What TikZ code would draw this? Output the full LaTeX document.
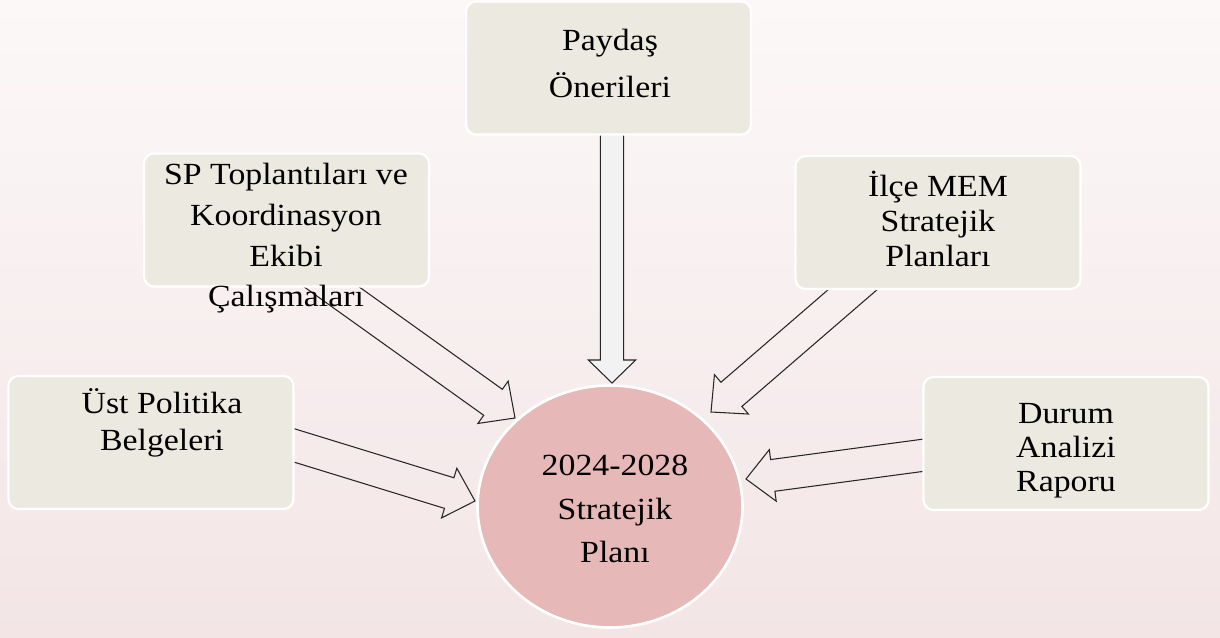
\documentclass[tikz,border=0pt]{standalone}
\usepackage{fontspec}
\setmainfont{Liberation Serif}[FakeStretch=1.1]
\usetikzlibrary{calc,shapes.geometric}
\definecolor{bgtop}{HTML}{FCF8F8}
\definecolor{bgbot}{HTML}{F3E5E6}
\definecolor{boxfill}{HTML}{ECEAE0}
\definecolor{planfill}{HTML}{E6B8B7}
\definecolor{arrowfill}{HTML}{F2F2F2}
\begin{document}
\begin{tikzpicture}[x=0.02cm, y=-0.02cm,
    src/.style={draw=white, line width=1.2pt, fill=boxfill, rounded corners=0.2cm,
      minimum width=5.7cm, minimum height=2.66cm, inner sep=0pt},
    plan/.style={ellipse, draw=white, line width=1.5pt, fill=planfill,
      minimum width=5.3cm, minimum height=4.84cm, inner sep=0pt},
    txt/.style={anchor=north, align=center, inner sep=0pt,
      font=\fontsize{17.5}{#1}\selectfont},
    feed/.style n args={3}{draw=black!85, fill=arrowfill, line width=0.6pt,
      to path={($(\tikztostart)!#1!90:(\tikztotarget)$)
        -- ($(\tikztotarget)!#3!(\tikztostart)!#1!90:(\tikztotarget)$)
        -- ($(\tikztotarget)!#3!(\tikztostart)!#2!90:(\tikztotarget)$)
        -- (\tikztotarget)
        -- ($(\tikztotarget)!#3!(\tikztostart)!#2!-90:(\tikztotarget)$)
        -- ($(\tikztotarget)!#3!(\tikztostart)!#1!-90:(\tikztotarget)$)
        -- ($(\tikztostart)!#1!-90:(\tikztotarget)$) -- cycle}}]
  \fill[top color=bgtop, bottom color=bgbot] (0,0) rectangle (1220,638);
  \useasboundingbox (0,0) rectangle (1220,638);
  % arrow ends
  \coordinate (payOut) at (612,130);
  \coordinate (payIn) at (612,383);
  \coordinate (spOut) at (294,260);
  \coordinate (spIn) at (515,418);
  \coordinate (ilceOut) at (887,260);
  \coordinate (ilceIn) at (711,412);
  \coordinate (ustOut) at (270,438);
  \coordinate (ustIn) at (475,501);
  \coordinate (durumOut) at (940,453);
  \coordinate (durumIn) at (746,479);
  \begin{scope}[feed={0.32cm}{0.52cm}{0.54cm}]
    \draw (spOut) to (spIn);
    \draw (ilceOut) to (ilceIn);
    \draw (ustOut) to (ustIn);
    \draw (durumOut) to (durumIn);
  \end{scope}
  \draw[feed={0.234cm}{0.474cm}{0.46cm}] (payOut) to (payIn);
  % boxes
  \node[src] (pay) at (608.5,68) {};
  \node[src] (sp) at (286.5,220) {};
  \node[src] (ilce) at (938,222.5) {};
  \node[src] (ust) at (151,442.5) {};
  \node[src] (durum) at (1066,443.5) {};
  \node[plan] (strat) at (610,506.5) {};
  % texts
  \node[txt=26.7] (payTxt) at (610,29) {Paydaş\\Önerileri};
  \node[txt=23.2] (spTxt) at (286,163) {SP Toplantıları ve\\Koordinasyon\\Ekibi\\Çalışmaları};
  \node[txt=19.9] (ilceTxt) at (938,171) {İlçe MEM\\Stratejik\\Planları};
  \node[txt=21.1] (ustTxt) at (162,388) {Üst Politika\\Belgeleri};
  \node[txt=19.4] (durumTxt) at (1066,403) {Durum\\Analizi\\Raporu};
  \node[txt=24.8] (stratTxt) at (615,455) {2024-2028\\Stratejik\\Planı};
\end{tikzpicture}
\end{document}
